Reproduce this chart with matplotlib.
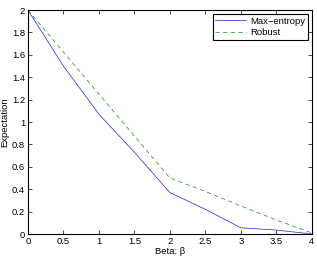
import matplotlib
matplotlib.use("Agg")
import matplotlib.pyplot as plt

plt.rcParams.update(
    {
        "font.family": ["Liberation Sans", "DejaVu Sans"],
        "font.size": 6.8,
        "xtick.direction": "in",
        "ytick.direction": "in",
        "xtick.top": True,
        "ytick.right": True,
        "axes.linewidth": 0.8,
    }
)

# data
beta = [0, 0.5, 1, 1.5, 2, 2.5, 3, 3.5, 4]
max_entropy = [2.0, 1.50, 1.07, 0.73, 0.37, 0.22, 0.055, 0.035, 0.0]
robust = [2.0, 1.625, 1.25, 0.875, 0.50, 0.38, 0.25, 0.125, 0.01]

fig = plt.figure(figsize=(3.17, 2.60), dpi=100)
ax = fig.add_axes([0.088, 0.10, 0.896, 0.8615])

ax.plot(beta, max_entropy, color="#2020e0", linewidth=0.5, label="Max\u2212entropy")
ax.plot(beta, robust, color="#108a10", linestyle=(0, (6, 5)), linewidth=0.5, label="Robust")

ax.set_xlim(0, 4)
ax.set_ylim(0, 2)
ax.set_xticks([0, 0.5, 1, 1.5, 2, 2.5, 3, 3.5, 4])
ax.set_xticklabels(["0", "0.5", "1", "1.5", "2", "2.5", "3", "3.5", "4"])
ax.set_yticks([0, 0.2, 0.4, 0.6, 0.8, 1, 1.2, 1.4, 1.6, 1.8, 2])
ax.set_yticklabels(["0", "0.2", "0.4", "0.6", "0.8", "1", "1.2", "1.4", "1.6", "1.8", "2"])
ax.tick_params(length=3, width=0.5, pad=2)

ax.set_xlabel("Beta: \u03b2", labelpad=1)
ax.set_ylabel("Expectation", labelpad=2)

leg = ax.legend(loc="upper right", fancybox=False, framealpha=1, edgecolor="black",
                borderaxespad=0.4, handlelength=3.2, handletextpad=0.5,
                borderpad=0.3, labelspacing=0.3)
leg.get_frame().set_linewidth(0.8)

plt.savefig("out.png", dpi=100)
